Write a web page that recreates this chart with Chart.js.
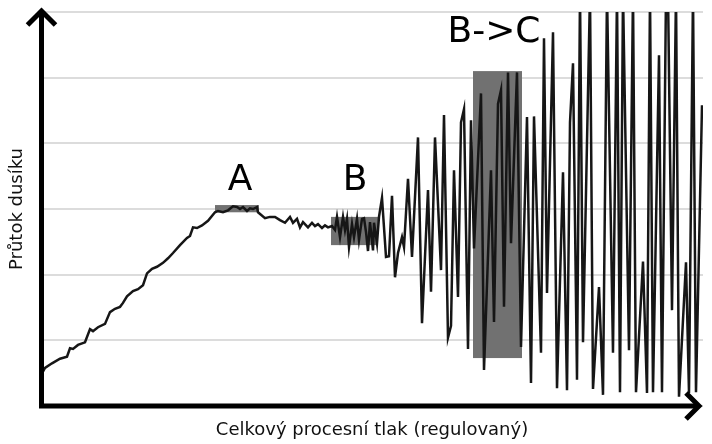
<!DOCTYPE html>
<html>
<head>
<meta charset="utf-8">
<script src="https://cdn.jsdelivr.net/npm/chart.js@4"></script>
<style>
  html, body { margin: 0; padding: 0; background: #fff; }
  canvas { display: block; }
</style>
</head>
<body>
<canvas id="graf" width="712" height="444"></canvas>
<script>
// tlak (osa x) a prutok dusiku (osa y)
const tlak = [
  0, 4, 11, 19, 26, 29, 32, 37, 44, 49,
  52, 57, 64, 69, 74, 79, 82, 86, 92, 97,
  102, 106, 111, 116, 122, 127, 132, 139, 146, 149,
  152, 156, 161, 167, 174, 177, 182, 187, 192, 196,
  199, 202, 206, 209, 212, 216, 217, 224, 229, 234,
  239, 244, 249, 252, 256, 259, 262, 267, 271, 274,
  277, 281, 284, 287, 291, 294, 296, 299, 302, 304,
  306, 308, 311, 313, 316, 318, 321, 323, 325, 327,
  329, 332, 333, 336, 338, 341, 345, 348, 351, 354,
  357, 361, 363, 367, 371, 377, 381, 387, 390, 394,
  400, 403, 407, 410, 413, 417, 420, 423, 427, 430,
  433, 440, 443, 450, 453, 457, 460, 463, 467, 470,
  476, 480, 486, 490, 493, 500, 503, 506, 512, 516,
  522, 526, 529, 532, 536, 539, 542, 549, 552, 558,
  562, 566, 572, 576, 579, 582, 588, 592, 595, 602,
  606, 609, 612, 618, 621, 625, 627, 631, 635, 638,
  645, 648, 652, 655, 661
];
const prutok = [
  0.47, 0.58, 0.65, 0.72, 0.75, 0.88, 0.87, 0.93, 0.97, 1.17,
  1.14, 1.20, 1.25, 1.43, 1.48, 1.51, 1.57, 1.67, 1.75, 1.78,
  1.84, 2.02, 2.09, 2.12, 2.18, 2.25, 2.33, 2.45, 2.56, 2.59,
  2.72, 2.71, 2.75, 2.82, 2.95, 2.97, 2.95, 2.98, 3.04, 3.03,
  3.00, 3.03, 2.97, 3.01, 3.00, 3.03, 2.95, 2.86, 2.88, 2.88,
  2.83, 2.79, 2.88, 2.79, 2.85, 2.72, 2.80, 2.72, 2.79, 2.74,
  2.77, 2.71, 2.75, 2.72, 2.74, 2.68, 2.88, 2.57, 2.88, 2.68,
  2.85, 2.42, 2.77, 2.57, 2.85, 2.53, 2.85, 2.86, 2.65, 2.36,
  2.80, 2.37, 2.79, 2.48, 2.88, 3.17, 2.27, 2.28, 3.20, 1.96,
  2.33, 2.57, 2.42, 3.46, 2.27, 4.09, 1.26, 3.29, 1.74, 4.09,
  2.07, 4.43, 1.04, 1.22, 3.59, 1.66, 4.32, 4.52, 0.87, 4.35,
  2.40, 4.76, 0.55, 3.59, 1.28, 4.60, 4.81, 1.51, 5.08, 2.48,
  5.08, 0.90, 4.40, 0.35, 4.41, 0.81, 5.60, 1.72, 5.69, 0.27,
  3.56, 0.24, 4.32, 5.22, 0.40, 6.3, 0.97, 6.3, 0.26, 1.81,
  0.17, 6.3, 0.81, 6.3, 0.21, 6.3, 0.85, 6.3, 0.21, 2.20,
  0.20, 6.3, 0.21, 5.34, 0.21, 6.3, 6.3, 1.46, 6.3, 0.14,
  2.19, 0.20, 6.3, 0.21, 4.58
];
const yTicks = [0, 1, 2, 3, 4, 5, 6];

// zvyraznene oblasti a popisky (v jednotkach os)
const oblasti = [
  { x0: 174, x1: 218, y0: 2.95, y1: 3.06 },
  { x0: 290, x1: 337, y0: 2.45, y1: 2.88 },
  { x0: 432, x1: 481, y0: 0.73, y1: 5.10 }
];
const popisky = [
  { text: 'A', x: 199, y: 3.29 },
  { text: 'B', x: 314, y: 3.29 },
  { text: 'B->C', x: 453, y: 5.54 }
];

const body = tlak.map((x, i) => ({ x: x, y: prutok[i] }));

const zvyrazneni = {
  id: 'zvyrazneni',
  beforeDatasetsDraw(chart) {
    const ctx = chart.ctx, sx = chart.scales.x, sy = chart.scales.y;
    ctx.save();
    ctx.fillStyle = '#717171';
    oblasti.forEach(o => {
      const l = sx.getPixelForValue(o.x0), r = sx.getPixelForValue(o.x1);
      const t = sy.getPixelForValue(o.y1), b = sy.getPixelForValue(o.y0);
      ctx.fillRect(l, t, r - l, b - t);
    });
    ctx.restore();
  },
  afterDraw(chart) {
    const ctx = chart.ctx, sx = chart.scales.x, sy = chart.scales.y;
    const a = chart.chartArea;
    ctx.save();
    ctx.font = '36px "DejaVu Sans"';
    ctx.fillStyle = '#000';
    ctx.textAlign = 'center';
    ctx.textBaseline = 'alphabetic';
    popisky.forEach(p => {
      ctx.fillText(p.text, sx.getPixelForValue(p.x), sy.getPixelForValue(p.y));
    });

    // osy se sipkami
    ctx.strokeStyle = '#000';
    ctx.lineWidth = 5;
    ctx.lineJoin = 'miter';
    ctx.lineCap = 'butt';
    const x0 = a.left + 0.5, y0 = a.bottom;
    ctx.beginPath();
    ctx.moveTo(x0, y0 + 2.5);
    ctx.lineTo(x0, 11);
    ctx.moveTo(x0 - 2.5, y0);
    ctx.lineTo(699, y0);
    ctx.stroke();
    ctx.beginPath();
    ctx.moveTo(x0 - 14, 25);
    ctx.lineTo(x0, 11);
    ctx.lineTo(x0 + 14, 25);
    ctx.stroke();
    ctx.beginPath();
    ctx.moveTo(686, y0 - 13);
    ctx.lineTo(699, y0);
    ctx.lineTo(686, y0 + 13);
    ctx.stroke();
    ctx.restore();
  }
};

new Chart(document.getElementById('graf').getContext('2d'), {
  type: 'line',
  data: {
    datasets: [{
      data: body,
      borderColor: '#161616',
      borderWidth: 2.5,
      pointRadius: 0,
      tension: 0,
      fill: false
    }]
  },
  options: {
    responsive: false,
    animation: false,
    devicePixelRatio: 1,
    layout: { padding: { top: 12, right: 9, left: 0, bottom: 0 } },
    plugins: { legend: { display: false }, tooltip: { enabled: false } },
    scales: {
      x: {
        type: 'linear',
        min: 0,
        max: 662,
        ticks: { display: false },
        grid: { display: false },
        border: { display: false },
        title: {
          display: true,
          text: 'Celkový procesní tlak (regulovaný)',
          color: '#111',
          font: { family: 'DejaVu Sans', size: 18 },
          padding: { top: 0, bottom: 3 }
        },
        afterFit: s => { s.height = 38; }
      },
      y: {
        min: 0,
        max: 6,
        afterBuildTicks: s => { s.ticks = yTicks.map(v => ({ value: v })); },
        ticks: { display: false },
        grid: { color: '#dcdcdc', lineWidth: 2, drawTicks: false },
        border: { display: false },
        title: {
          display: true,
          text: 'Průtok dusíku',
          color: '#111',
          font: { family: 'DejaVu Sans', size: 18 },
          padding: { top: 7, bottom: 0 }
        },
        afterFit: s => { s.width = 41; }
      }
    }
  },
  plugins: [zvyrazneni]
});
</script>
</body>
</html>
